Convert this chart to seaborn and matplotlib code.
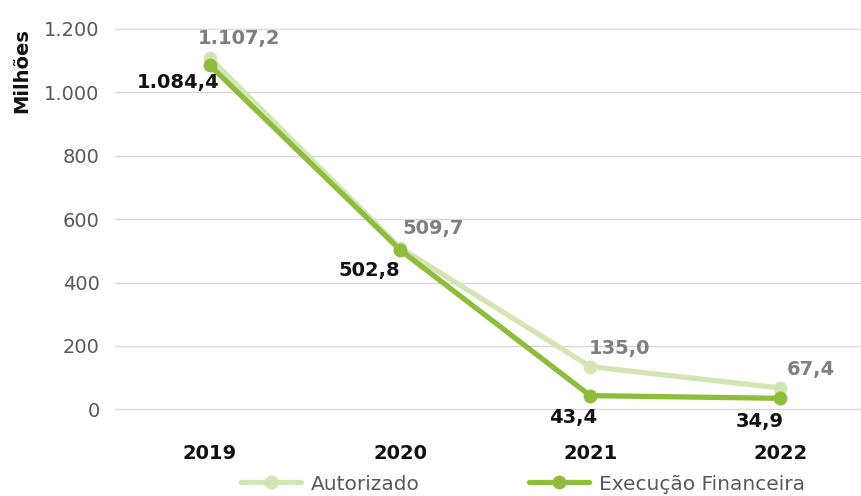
import matplotlib
matplotlib.use("Agg")
import matplotlib.pyplot as plt
import seaborn as sns
import pandas as pd

years = ["2019", "2020", "2021", "2022"]
autorizado = [1107.2, 509.7, 135.0, 67.4]
execucao = [1084.4, 502.8, 43.4, 34.9]
series_names = ["Autorizado", "Execução Financeira"]
y_ticks = [0, 200, 400, 600, 800, 1000, 1200]

def br(v, dec=1):
    s = f"{v:,.{dec}f}"
    return s.replace(",", "X").replace(".", ",").replace("X", ".")

df = pd.DataFrame({
    "Ano": years * 2,
    "Valor": autorizado + execucao,
    "Série": [series_names[0]] * 4 + [series_names[1]] * 4,
})

sns.set_theme(style="white")
plt.rcParams["font.family"] = ["DejaVu Sans"]

light_green = "#d3e5b3"
dark_green = "#8dbd3a"

fig = plt.figure(figsize=(8.61, 4.96), dpi=100)
ax = fig.add_axes([115 / 861, 1 - 430 / 496, (862 - 115) / 861, (430 - 12) / 496])

sns.lineplot(data=df, x="Ano", y="Valor", hue="Série",
             palette=[light_green, dark_green], marker="o",
             markersize=10, markeredgewidth=0, linewidth=3.8,
             ax=ax, sort=False, legend=False)

ax.set_xlim(-0.5, 3.43)
ax.set_ylim(-65, 1253)
ax.set_yticks(y_ticks)
ax.set_yticklabels([br(t, 0) for t in y_ticks], color="#595959", fontsize=14)
ax.yaxis.grid(True, color="#d9d9d9", linewidth=1)
ax.xaxis.grid(False)
for sp in ax.spines.values():
    sp.set_visible(False)
ax.tick_params(axis="both", length=0)
ax.tick_params(axis="y", pad=11)
ax.tick_params(axis="x", pad=10)
for lbl in ax.get_xticklabels():
    lbl.set_fontweight("bold")
    lbl.set_fontsize(14)
    lbl.set_color("#111111")
ax.set_xlabel("")
ax.set_ylabel("Milhões", fontsize=14, fontweight="bold", color="#111111")
ax.yaxis.set_label_coords(-0.112, 0.86)

# value labels: Autorizado above-right, Execução below-left
auto_off = [(21, 14), (24, 14), (21, 13), (22, 13)]
exec_off = [(-23, -12), (-22, -15), (-12, -16), (-15, -17)]
for i, v in enumerate(autorizado):
    ax.annotate(br(v), (i, v), xytext=auto_off[i], textcoords="offset points",
                ha="center", va="center", fontsize=14, fontweight="bold",
                color="#7f7f7f")
for i, v in enumerate(execucao):
    ax.annotate(br(v), (i, v), xytext=exec_off[i], textcoords="offset points",
                ha="center", va="center", fontsize=14, fontweight="bold",
                color="#111111")

handles = [
    plt.Line2D([], [], color=light_green, marker="o", markersize=10,
               markeredgewidth=0, linewidth=3.8),
    plt.Line2D([], [], color=dark_green, marker="o", markersize=10,
               markeredgewidth=0, linewidth=3.8),
]
leg = fig.legend(handles, series_names, loc="center",
                 bbox_to_anchor=(523 / 861, 1 - 484 / 496), ncol=2, frameon=False,
                 fontsize=14.5, handlelength=3.0, handletextpad=0.5,
                 columnspacing=5.4, borderaxespad=0)
for t in leg.get_texts():
    t.set_color("#595959")

fig.savefig("out.png", dpi=100)
